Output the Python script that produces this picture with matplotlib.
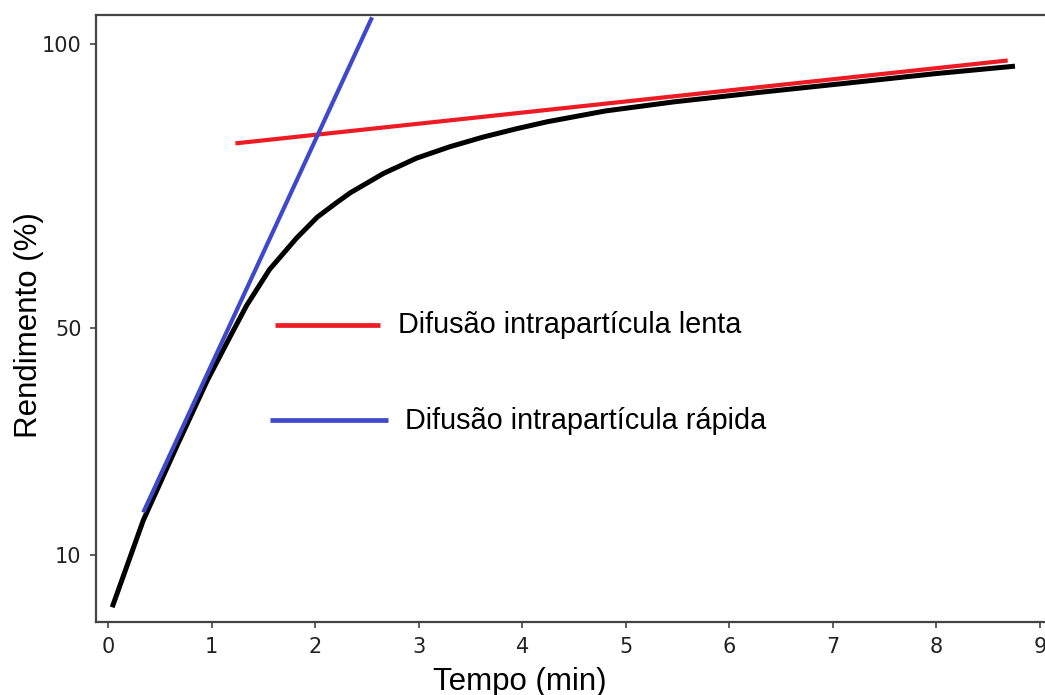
import matplotlib.pyplot as plt

# rendimento vs tempo (curva experimental)
tempo = [0.04, 0.34, 0.66, 0.96, 1.18, 1.34, 1.56, 1.82, 2.02, 2.21, 2.34, 2.66,
         2.98, 3.30, 3.62, 3.95, 4.24, 4.80, 5.46, 6.30, 7.13, 8.00, 8.76]
rendimento = [0.8, 16.1, 29.0, 40.8, 48.5, 54.0, 60.3, 65.8, 69.5, 72.1, 73.8, 77.2,
              79.9, 81.9, 83.6, 85.1, 86.3, 88.2, 89.8, 91.5, 93.1, 94.8, 96.1]

# retas das duas etapas de difusao
rapida_x = [0.34, 2.55]
rapida_y = [17.5, 104.7]
lenta_x = [1.23, 8.69]
lenta_y = [82.5, 97.1]

x_ticks = [0, 1, 2, 3, 4, 5, 6, 7, 8, 9]
y_ticks = [10, 50, 100]

vermelho = '#ED1C24'
azul = '#3F48CC'

fig = plt.figure(figsize=(10.45, 6.95), dpi=100)
ax = fig.add_axes([0.0919, 0.105, 0.9081, 0.873])

ax.plot(tempo, rendimento, color='black', lw=3.6, solid_capstyle='butt',
        solid_joinstyle='round', zorder=2)
ax.plot(lenta_x, lenta_y, color=vermelho, lw=3.0, solid_capstyle='butt', zorder=3)
ax.plot(rapida_x, rapida_y, color=azul, lw=3.0, solid_capstyle='butt', zorder=3)

# legenda feita a mao
ax.plot([1.61, 2.63], [50.5, 50.5], color=vermelho, lw=3.4, solid_capstyle='butt')
ax.text(2.80, 50.5, 'Difusão intrapartícula lenta', fontsize=20.8,
        family='Liberation Sans', va='center', ha='left')
ax.plot([1.56, 2.70], [33.8, 33.8], color=azul, lw=3.4, solid_capstyle='butt')
ax.text(2.87, 33.6, 'Difusão intrapartícula rápida', fontsize=20.8,
        family='Liberation Sans', va='center', ha='left')

ax.set_xlim(-0.116, 9.05)
ax.set_ylim(-1.8, 105.06)
ax.set_xticks(x_ticks)
ax.set_yticks(y_ticks)
ax.tick_params(direction='out', length=4.5, width=1.1, color='#333333',
               labelsize=15, labelcolor='#222222', pad=6)

ax.spines['right'].set_visible(False)
for s in ['left', 'bottom', 'top']:
    ax.spines[s].set_linewidth(1.6)
    ax.spines[s].set_color('#444444')

ax.set_xlabel('Tempo (min)', fontsize=22.5, family='Liberation Sans')
ax.set_ylabel('Rendimento (%)', fontsize=22.5, family='Liberation Sans')
ax.xaxis.set_label_coords(0.447, -0.074)
ax.yaxis.set_label_coords(-0.055, 0.489)

fig.savefig('out.png', dpi=100)
